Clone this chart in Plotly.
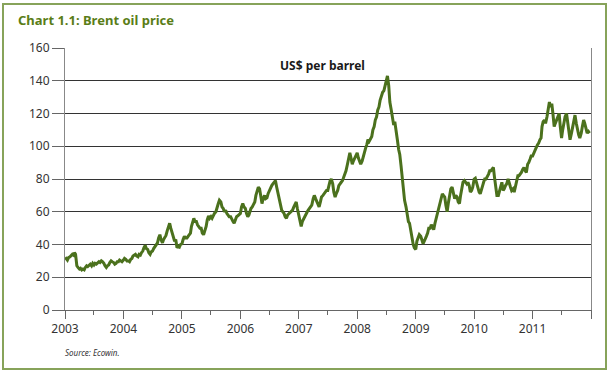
import plotly.graph_objects as go

# Brent oil price, US$ per barrel, read weekly (days 1, 8, 16, 23 of each month) from the chart
brent_2003 = [31, 31.5, 30.5, 32, 32.5, 33, 34, 33.5, 35, 34, 27, 26,
              25, 25.5, 24.5, 25, 24.5, 26, 27, 26.5, 27.5, 28, 27, 28.5,
              27.5, 28.5, 28, 29, 29.5, 29, 30, 29.5, 28.5, 27, 26, 27,
              27.5, 29, 30, 29.5, 29, 28, 28.5, 29.5, 29.5, 30.5, 30, 29.5]
brent_2004 = [30.5, 31.5, 31, 30, 30, 29.5, 31, 31.5, 33, 33.5, 34, 33,
              32.5, 34, 33.5, 35, 36, 38, 39.5, 37.5, 37, 35, 34, 35.5,
              36, 37.5, 38.5, 40, 41, 44, 46, 43, 41, 43, 44, 45.5,
              48.5, 51, 53, 50, 47, 44, 42, 43, 38, 39, 38.5, 40]
brent_2005 = [40.5, 43, 45, 44, 44, 45, 46, 47, 51, 54, 56, 54,
              54, 52, 51, 50, 50, 47, 46, 48, 51, 55, 57.5, 56,
              57, 56, 58, 59, 60, 63, 65, 67, 66, 63, 62, 60,
              61, 59, 58, 57, 57, 55, 54, 53, 55, 57, 57.5, 58.5]
brent_2006 = [59, 63, 65, 63, 62, 59, 57, 58, 60.5, 62, 63, 64,
              66, 70, 73, 75, 74, 69, 65, 68, 70, 68, 68.5, 71,
              73, 75, 76, 77, 78, 79, 75, 72, 68, 64, 61, 60,
              59, 57, 56, 58, 59, 59.5, 60, 61, 63, 65, 66, 62]
brent_2007 = [58, 53, 51, 54, 56, 57, 58.5, 60, 61, 62, 62.5, 64,
              68, 70, 68, 66, 65, 63, 66, 69, 70, 71, 71.5, 73,
              73, 76, 79, 80, 77, 72, 69, 71, 73, 76, 77.5, 78,
              79, 81, 83, 85, 89, 93, 96, 93, 89, 91, 93, 95]
brent_2008 = [96, 93, 90, 89, 91, 94, 96.5, 99, 101, 104, 103, 104,
              106, 110, 112, 116, 118, 122, 124, 128, 131, 133, 134, 137,
              142, 143, 137, 127, 122, 117, 113, 115, 110, 104, 98, 95,
              88, 80, 74, 67, 63, 57, 54, 53, 48, 45, 40, 38]
brent_2009 = [37, 42, 44, 46, 45, 43, 40.5, 42, 43, 45, 47, 50,
              50, 52, 51, 49, 53, 56, 58, 61, 66, 68, 71, 70,
              69, 64, 60, 65, 71, 74, 75, 72, 68, 70, 69, 66,
              65, 70, 75, 78, 79, 78, 77, 78, 76, 72, 73, 75]
brent_2010 = [80, 80.5, 77, 74, 72, 71, 73, 76, 78, 80, 80, 81,
              83, 85, 85, 86, 87, 81, 76, 70, 70, 73, 76, 78,
              73, 74, 76, 77, 80, 77, 75, 73, 74, 72, 76, 78,
              82, 82, 83, 84, 86, 87, 85, 84, 89, 90, 92, 94]
brent_2011 = [94, 96, 97.5, 99, 101, 102, 104, 105, 112, 115, 116, 114,
              118, 122, 127, 124, 126, 120, 112, 114, 116, 118, 120, 112,
              105, 110, 114, 118, 120, 114, 108, 104, 108, 112, 116, 119,
              114, 110, 107, 105, 108, 112, 116, 114, 110, 108, 109, 108]

years = [2003, 2004, 2005, 2006, 2007, 2008, 2009, 2010, 2011]
series = [brent_2003, brent_2004, brent_2005, brent_2006, brent_2007,
          brent_2008, brent_2009, brent_2010, brent_2011]
week_days = [1, 8, 16, 23]

year_ticks = ["2003", "2004", "2005", "2006", "2007", "2008", "2009", "2010", "2011", "2012"]
year_labels = ["2003", "2004", "2005", "2006", "2007", "2008", "2009", "2010", "2011", ""]

dates, values = [], []
for yr, vals in zip(years, series):
    for i, v in enumerate(vals):
        month = i // 4 + 1
        day = week_days[i % 4]
        dates.append(f"{yr}-{month:02d}-{day:02d}")
        values.append(v)

LINE = "#4b711d"
FONT = "Noto Sans"

fig = go.Figure()
fig.add_trace(go.Scatter(x=dates, y=values, mode="lines",
                         line=dict(color=LINE, width=3), hoverinfo="skip"))

L, R, T, B = 65, 591, 48, 310
W, H = 610, 372
pw, ph = R - L, B - T

def px(x):
    return (x - L) / pw

def py(y):
    return (B - y) / ph

fig.update_layout(
    width=W, height=H, autosize=False,
    margin=dict(l=L, r=W - R, t=T, b=H - B),
    paper_bgcolor="white", plot_bgcolor="white",
    showlegend=False,
    font=dict(family=FONT, size=12, color="#333333"),
    title=dict(text="<b>Chart 1.1: Brent oil price</b>", xref="container", yref="container",
               x=18 / W, y=1 - 20 / H, xanchor="left", yanchor="middle",
               font=dict(family=FONT, size=13, color="#5a7d17")),
    xaxis=dict(
        type="date",
        range=["2003-01-01", "2012-01-01"],
        tickmode="array",
        tickvals=[f"{y}-01-01" for y in year_ticks],
        ticktext=year_labels,
        ticks="outside", ticklen=8, tickcolor="#666666", tickwidth=1,
        minor=dict(tickmode="array",
                   tickvals=[f"{y}-07-01" for y in year_ticks[:-1]],
                   ticks="outside", ticklen=4, tickcolor="#666666", showgrid=False),
        showgrid=False, showline=True, linecolor="#666666", linewidth=1,
        tickfont=dict(family=FONT, size=12, color="#333333"),
        fixedrange=True,
    ),
    yaxis=dict(
        range=[0, 160], dtick=20, tick0=0,
        ticks="outside", ticklen=12, tickcolor="#666666", tickwidth=1,
        showgrid=True, gridcolor="#333333", gridwidth=1,
        showline=True, mirror=True, linecolor="#888888", linewidth=1,
        zeroline=False,
        tickfont=dict(family=FONT, size=12, color="#333333"),
        fixedrange=True,
    ),
)

fig.add_shape(type="rect", xref="paper", yref="paper",
              x0=px(3), x1=px(606), y0=py(369), y1=py(4),
              line=dict(color="#87a35a", width=2), layer="below")

fig.add_annotation(text="<b>US$ per barrel</b>", xref="paper", yref="paper",
                   x=px(322), y=py(65), xanchor="center", yanchor="middle", showarrow=False,
                   font=dict(family=FONT, size=12, color="#1a1a1a"))
fig.add_annotation(text="<i>Source: Ecowin.</i>", xref="paper", yref="paper",
                   x=px(63), y=py(352), xanchor="left", yanchor="middle", showarrow=False,
                   font=dict(family=FONT, size=8, color="#333333"))

fig.write_html("out.html", config={"displayModeBar": False},
               post_script="document.body.style.margin='0';document.body.style.overflow='hidden';")
